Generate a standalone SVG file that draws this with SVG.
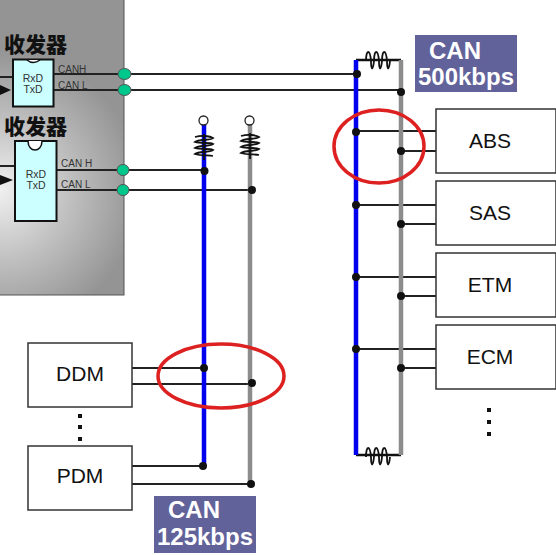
<svg xmlns="http://www.w3.org/2000/svg" width="556" height="555" viewBox="0 0 556 555">
<style>
text{font-family:"Liberation Sans",Arial,sans-serif}
.k{stroke:#222;stroke-width:2;fill:none}
.box{fill:#fff;stroke:#333;stroke-width:1.500}
.t{font-size:21px;fill:#111;text-anchor:middle}
.chip{fill:#ccffff;stroke:#111;stroke-width:2}
.sm{font-size:10px;fill:#333}
.rx{font-size:10.500px;fill:#333;text-anchor:middle}
.zh{font-family:"Noto Sans CJK SC",sans-serif;font-size:21px;font-weight:900;fill:#111}
.dot{fill:#111}
.term{fill:#00c78c;stroke:#555;stroke-width:1}
.lab{fill:#62629a}
.lt{font-size:24px;font-weight:700;fill:#fff;text-anchor:middle}
.coil{fill:none;stroke:#111;stroke-width:1.800}
.ring{fill:none;stroke:#dd2020;stroke-width:3.500}
</style>
<defs>
<radialGradient id="g" gradientUnits="userSpaceOnUse" cx="0" cy="190" r="140"><stop offset="0" stop-color="#f0f0f0"/><stop offset="0.5" stop-color="#c0c0c0"/><stop offset="1" stop-color="#949494"/></radialGradient>
<g id="hc"><path class="coil" d="M-9 -10C-2 -12 6 -11 9 -9C5 -6 -5 -8 -9 -5C-3 -3 5 -5 9 -3C5 0 -5 -2 -9 1C-3 3 5 1 9 3C5 6 -5 4 -9 7C-3 9 5 8 9 9"/><path d="M0 -13V13" stroke="#111" stroke-width="1.800"/></g>
<g id="vc"><path class="coil" d="M-12 1C-12 -11 -8 -11 -7 1C-7 11 -5 11 -4 1C-4 -11 0 -11 1 1C1 11 3 11 4 1C4 -11 8 -11 9 1C9 11 11 11 12 1"/></g>
</defs>

<g id="ecu">
<rect x="-2" y="-2" width="126" height="297" fill="url(#g)" stroke="#555" stroke-width="1"/>
<path d="M0 77H14M0 166H15" class="k"/>
<path d="M0 85L11 90L0 95ZM0 175L13 180L0 185Z" fill="#111"/>
<text class="zh" x="4" y="52">收发器</text>
<text class="zh" x="4" y="134">收发器</text>
</g>
<g id="transceiver-1">
<rect class="chip" x="13" y="59.500" width="40.500" height="47"/>
<path d="M27 60Q33 65 40 60" fill="#fff" stroke="#111" stroke-width="1.500"/>
<text class="rx" x="33" y="82">RxD</text><text class="rx" x="33" y="93">TxD</text>
<text class="sm" x="58" y="73">CANH</text><text class="sm" x="58" y="89">CAN L</text>
</g>
<g id="transceiver-2">
<rect class="chip" x="15" y="141" width="41.500" height="80"/>
<path d="M28 141C28 153 42 153 42 141" fill="#fff" stroke="#111" stroke-width="1.500"/>
<text class="rx" x="36" y="178">RxD</text><text class="rx" x="36" y="189">TxD</text>
<text class="sm" x="61" y="167">CAN H</text><text class="sm" x="61" y="188">CAN L</text>
</g>

<g id="connectors">
<path d="M54 74H356M54 90H401M57 170H204M57 190H251" class="k"/>
<path d="M132 368H204M132 384H252M84 466H204M84 484H251" class="k"/>
<path d="M356 131H436M401 151H436M356 205H436M401 224H436M356 277H436M401 296H436M356 349H436M401 368H436" class="k"/>
<path d="M356 60H401M356 455H401" stroke="#111" stroke-width="2.500"/>
<path d="M356 60V455" stroke="#0000ee" stroke-width="4.500"/>
<path d="M401 60V455" stroke="#8c8c8c" stroke-width="4.500"/>
<path d="M204 122V466" stroke="#0000ee" stroke-width="4.500"/>
<path d="M250 122V484" stroke="#8c8c8c" stroke-width="4.500"/>
<circle cx="203.500" cy="120.500" r="4.500" fill="#fff" stroke="#222" stroke-width="1.300"/>
<circle cx="249.500" cy="120.500" r="4.500" fill="#fff" stroke="#222" stroke-width="1.300"/>
<use href="#hc" x="204" y="147"/>
<use href="#hc" x="250" y="146"/>
<use href="#vc" x="378" y="60"/>
<use href="#vc" x="378" y="456"/>
<ellipse class="term" cx="124.500" cy="74" rx="6.500" ry="5.500"/>
<ellipse class="term" cx="124.500" cy="90" rx="6.500" ry="5.500"/>
<ellipse class="term" cx="123" cy="170" rx="6" ry="5.500"/>
<ellipse class="term" cx="123" cy="190" rx="6" ry="5.500"/>
<g class="dot">
<circle cx="357" cy="74" r="4"/><circle cx="401" cy="92" r="4"/>
<circle cx="356" cy="132" r="4"/><circle cx="401" cy="151" r="4"/>
<circle cx="356" cy="205" r="4"/><circle cx="401" cy="224" r="4"/>
<circle cx="356" cy="277" r="4"/><circle cx="401" cy="296" r="4"/>
<circle cx="356" cy="349" r="4"/><circle cx="401" cy="368" r="4"/>
<circle cx="204.500" cy="171" r="4"/><circle cx="252" cy="190" r="4"/>
<circle cx="204" cy="368" r="4"/><circle cx="252" cy="383" r="4"/>
<circle cx="203" cy="466" r="4"/><circle cx="251" cy="484" r="4"/>
</g>
</g>

<g id="abs"><rect class="box" x="436" y="109" width="120" height="64"/><text class="t" x="490" y="148">ABS</text></g>
<g id="sas"><rect class="box" x="436" y="181" width="120" height="64"/><text class="t" x="490" y="220">SAS</text></g>
<g id="etm"><rect class="box" x="436" y="253" width="120" height="64"/><text class="t" x="490" y="292">ETM</text></g>
<g id="ecm"><rect class="box" x="436" y="325" width="120" height="64"/><text class="t" x="490" y="364">ECM</text></g>
<g id="ddm"><rect class="box" x="28" y="343" width="104" height="64"/><text class="t" x="80" y="381">DDM</text></g>
<g id="pdm"><rect class="box" x="28" y="446" width="104" height="64"/><text class="t" x="80" y="483">PDM</text></g>

<g id="ellipsis" fill="#111">
<rect x="78" y="414" width="4" height="4"/><rect x="78" y="425" width="4" height="4"/><rect x="78" y="437" width="4" height="4"/>
<rect x="487" y="408" width="4" height="4"/><rect x="487" y="420" width="4" height="4"/><rect x="487" y="432" width="4" height="4"/>
</g>

<g id="label-500"><rect class="lab" x="415" y="35" width="102" height="57"/><text class="lt" x="455" y="59">CAN</text><text class="lt" x="466" y="85">500kbps</text></g>
<g id="label-125"><rect class="lab" x="154" y="496" width="102" height="57"/><text class="lt" x="194" y="518">CAN</text><text class="lt" x="205" y="545">125kbps</text></g>

<ellipse class="ring" cx="379" cy="146.500" rx="45" ry="36.500"/>
<ellipse class="ring" cx="221" cy="376" rx="63" ry="32"/>
</svg>
